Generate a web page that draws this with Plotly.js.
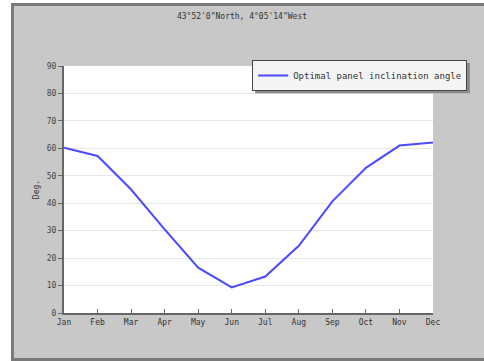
<!DOCTYPE html>
<html><head><meta charset="utf-8">
<script src="https://cdn.plot.ly/plotly-3.0.1.min.js"></script>
<style>
html,body{margin:0;padding:0;background:#ffffff;width:484px;height:361px;overflow:hidden}
#frame{position:absolute;left:11px;top:3px;width:480px;height:352px;background:#c8c8c8;border-left:3px solid #7a7a7a;border-top:3px solid #7a7a7a;border-bottom:3px solid #7a7a7a}
#chart{position:absolute;left:0;top:0;width:484px;height:361px}
</style></head>
<body>
<div id="frame"></div>
<div id="chart"></div>
<script>
const months = ["Jan","Feb","Mar","Apr","May","Jun","Jul","Aug","Sep","Oct","Nov","Dec"];
const angle = [60.2, 57.2, 45, 30.5, 16.5, 9.3, 13.3, 24.5, 40.7, 52.9, 61.0, 62.1];
const seriesName = "Optimal panel inclination angle";
const titleText = "43°52'0\"North, 4°05'14\"West";
const yTicks = [0,10,20,30,40,50,60,70,80,90];

const mono = "DejaVu Sans Mono, monospace";
const trace = {
  x: months, y: angle, type: "scatter", mode: "lines", name: seriesName,
  line: {color: "#4a4aff", width: 2}
};
const layout = {
  width: 484, height: 361,
  paper_bgcolor: "rgba(0,0,0,0)", plot_bgcolor: "#ffffff",
  margin: {l: 64, r: 51, t: 66, b: 48},
  title: {text: titleText, font: {family: mono, size: 8, color: "#333"}, x: 0.5, xanchor: "center", y: 0.955, yanchor: "middle"},
  showlegend: true,
  legend: {x: 0.51, y: 1.024, xanchor: "left", yanchor: "top", bgcolor: "#f4f4f4", bordercolor: "#444", borderwidth: 1,
    font: {family: mono, size: 9, color: "#333"}, itemwidth: 30},
  xaxis: {type: "category", range: [0, 11], showgrid: false, zeroline: false, showline: true, linecolor: "#666", linewidth: 2,
    ticks: "inside", ticklen: 4, tickcolor: "#666", tickfont: {family: mono, size: 8, color: "#333"}, fixedrange: true},
  yaxis: {range: [0, 90], tickvals: yTicks, showgrid: true, gridcolor: "#e6e6e6", gridwidth: 1, zeroline: false,
    showline: true, linecolor: "#666", linewidth: 2, ticks: "outside", ticklen: 4, tickcolor: "#666",
    tickfont: {family: mono, size: 8, color: "#444"},
    title: {text: "Deg.", font: {family: mono, size: 8, color: "#333"}, standoff: 6}},
  shapes: [{type: "rect", xref: "paper", yref: "paper", x0: 0.518, x1: 1.1, y0: 0.89, y1: 1.012,
    fillcolor: "#8a8a8a", line: {width: 0}, layer: "above"}]
};
Plotly.newPlot("chart", [trace], layout, {displayModeBar: false, staticPlot: true});
</script>
</body></html>
